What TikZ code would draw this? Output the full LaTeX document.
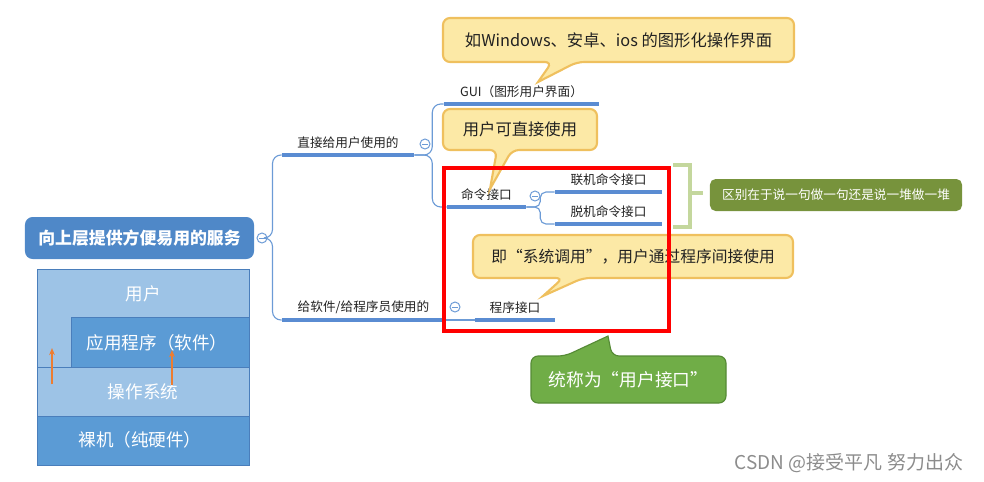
\documentclass[tikz,border=0pt]{standalone}
\usepackage{fontspec}
\usepackage{xcolor}
\usepackage{tikz}
\usetikzlibrary{arrows.meta,positioning,calc}
\newfontfamily\cjk{Noto Sans CJK SC}
\definecolor{ink}{HTML}{222222}
\definecolor{rootB}{HTML}{4F88C8}
\definecolor{lnk}{HTML}{6C9BD6}
\definecolor{lnkD}{HTML}{5A8CD2}
\definecolor{calF}{HTML}{FCE9A6}
\definecolor{calD}{HTML}{EFC05E}
\definecolor{grnF}{HTML}{70AD47}
\definecolor{grnD}{HTML}{558A35}
\definecolor{noteF}{HTML}{77933C}
\definecolor{brkC}{HTML}{C4D79D}
\definecolor{layL}{HTML}{9DC3E6}
\definecolor{layD}{HTML}{5B9BD5}
\definecolor{layB}{HTML}{4A7EBB}
\definecolor{arrO}{HTML}{ED7D31}
\definecolor{wmk}{HTML}{8C8C8C}
\tikzset{
  root/.style  ={fill=rootB, rounded corners=5.5pt, text=white, inner sep=0pt,
                 font=\cjk\bfseries\fontsize{12}{14}\selectfont,
                 minimum width=5.725cm, minimum height=1.05cm},
  topic/.style ={font=\cjk\fontsize{9}{11}\selectfont, text=ink, inner sep=0pt,
                 minimum height=0.6cm, anchor=south},
  uline/.style ={draw=lnkD, line width=2.2pt},
  conn/.style  ={draw=lnk, line width=.8pt, rounded corners=6pt},
  fold/.style  ={circle, draw=lnk, fill=white, line width=.7pt, minimum size=0.25cm,
                 inner sep=0pt, path picture={\draw[lnk,line width=.7pt]
                 ([xshift=-2.2pt]path picture bounding box.center) --
                 ([xshift=2.2pt]path picture bounding box.center);}},
  callY/.style ={fill=calF, draw=calD, line width=1.5pt, rounded corners=5pt},
  callG/.style ={fill=grnF, draw=grnD, line width=.8pt, rounded corners=5pt},
  ctext/.style ={font=\cjk\fontsize{11.6}{14}\selectfont, text=ink},
  note/.style  ={fill=noteF, rounded corners=4pt, text=white, inner sep=0pt,
                 font=\cjk\fontsize{9}{11}\selectfont,
                 minimum width=6.3cm, minimum height=0.8cm},
  brk/.style   ={draw=brkC, line width=3.5pt},
  redbox/.style={draw=red, line width=2.2pt},
  layL/.style  ={fill=layL, draw=layB, line width=.6pt},
  layD/.style  ={fill=layD, draw=layB, line width=.6pt},
  ltxt/.style  ={font=\cjk\fontsize{12.5}{14}\selectfont, text=white},
  up/.style    ={-{Stealth[length=5pt,width=4pt]}, draw=arrO, line width=1.1pt},
}
\begin{document}
\begin{tikzpicture}[x=0.025cm,y=-0.025cm]
  \useasboundingbox (0,0) rectangle (984,481);
  % --- layer stack ---
  \draw[layL] (37,269) rectangle (249,465);
  \draw[layD] (71,317) rectangle (249,367);
  \draw[layL] (37,367) rectangle (249,416);
  \draw[layD] (37,416) rectangle (249,465);
  \node[ltxt] (lUser) at (143,294) {用户};
  \node[ltxt] (lApp)  at (157,343) {应用程序（软件）};
  \node[ltxt] (lOs)   at (143,392) {操作系统};
  \node[ltxt] (lHw)   at (140,440) {裸机（纯硬件）};
  \draw[up] (52,384) -- (52,348);
  \draw[up] (172,385) -- (172,350);
  % --- mind map ---
  \node[root] (root) at (139.5,238) {向上层提供方便易用的服务};
  \node[fold] (c0) at (262,238) {};
  \node[topic, minimum width=3.3cm]   (tDirect) at (348,155)   {直接给用户使用的};
  \node[topic, minimum width=4.075cm] (tSoft)   at (363.5,320) {给软件/给程序员使用的};
  \node[topic, minimum width=3.875cm] (tGui)    at (521.5,104) {GUI（图形用户界面）};
  \node[topic, minimum width=1.975cm] (tCmd)    at (486.5,207) {命令接口};
  \node[topic, minimum width=2.675cm] (tOn)     at (608.5,192) {联机命令接口};
  \node[topic, minimum width=2.675cm] (tOff)    at (608.5,224) {脱机命令接口};
  \node[topic, minimum width=2cm]     (tProg)   at (515,320)   {程序接口};
  \node[fold] (c1) at (425,144) {};
  \node[fold] (c2) at (535,196) {};
  \node[fold] (c3) at (455,307) {};
  \foreach \t in {tDirect,tSoft,tGui,tCmd,tOn,tOff,tProg}
     \draw[uline] (\t.south west) -- (\t.south east);
  \draw[conn] (c0.east) -- ++(5,0) |- (tDirect.south west);
  \draw[conn] (c0.east) -- ++(5,0) |- (tSoft.south west);
  \draw[conn] (tDirect.south east) -- ++(18,0) |- (tGui.south west);
  \draw[conn] (tDirect.south east) -- ++(18,0) |- (tCmd.south west);
  \draw[conn,rounded corners=4pt] (tCmd.south east) -- ++(14,0) |- (tOn.south west);
  \draw[conn,rounded corners=4pt] (tCmd.south east) -- ++(14,0) |- (tOff.south west);
  \draw[conn] (tSoft.south east) -- (tProg.south west);
  % --- callouts ---
  \draw[callY] (552,62) -- (443,62) -- (443,18) -- (794,18) -- (794,62) -- (577,62)
        [sharp corners] -- (538,82) [rounded corners=5pt] -- cycle;
  \node[ctext] (kGui) at (618.5,40) {如Windows、安卓、ios 的图形化操作界面};
  \draw[callY] (497,150) -- (443,150) -- (443,109) -- (597,109) -- (597,150) -- (512,150)
        [sharp corners] -- (490,189) [rounded corners=5pt] -- cycle;
  \node[ctext] (kCmd) at (520,129.5) {用户可直接使用};
  \draw[callY] (563,278) -- (473,278) -- (473,235) -- (793,235) -- (793,278) -- (583,278)
        [sharp corners] -- (543,296) [rounded corners=5pt] -- cycle;
  \node[ctext, font=\cjk\fontsize{11.2}{14}\selectfont] (kProg) at (633,256.5) {即“系统调用”，用户通过程序间接使用};
  % --- bracket and note ---
  \draw[brk] (673,165) -| (690,196) |- (673,227);
  \coordinate (brkM) at (690,193);
  \node[note] (diff) at (836,195) {区别在于说一句做一句还是说一堆做一堆};
  \draw[brk] (brkM) -- ++(13,0);
  % --- red frame and summary ---
  \draw[redbox] (444,168) rectangle (669,331);
  \draw[callG] (565,356) -- (531,356) -- (531,403) -- (726,403) -- (726,356) -- (612,356)
        [sharp corners] -- (608,336) [rounded corners=5pt] -- cycle;
  \node[ltxt, font=\cjk\fontsize{12.6}{14}\selectfont] (sum) at (628.5,379.5) {统称为“用户接口”};
  \node[font=\cjk\fontsize{13.5}{15}\selectfont, text=wmk] (mark) at (849,463) {CSDN @接受平凡 努力出众};
\end{tikzpicture}
\end{document}
